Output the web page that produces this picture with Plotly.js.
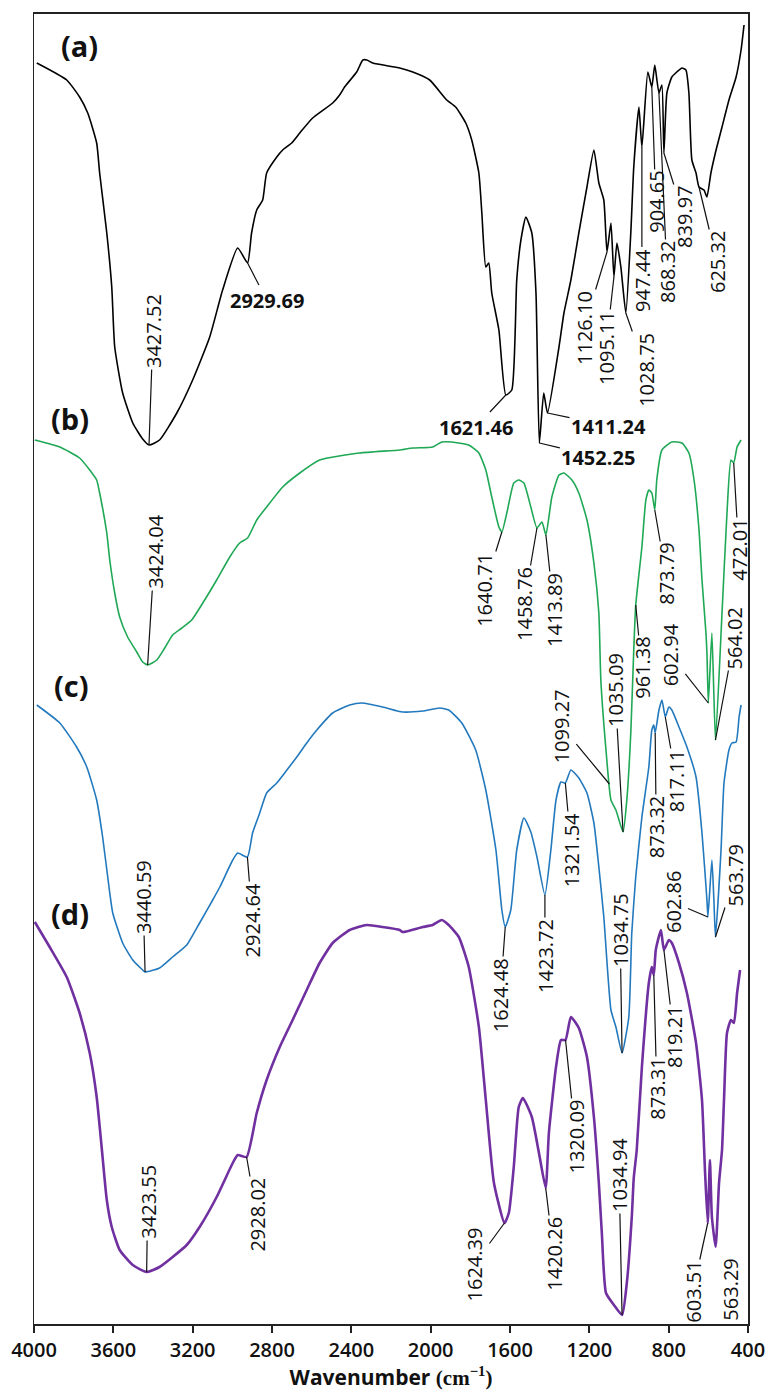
<!DOCTYPE html>
<html>
<head>
<meta charset="utf-8">
<script src="https://cdn.plot.ly/plotly-3.0.1.min.js"></script>
<style>
html,body{margin:0;padding:0;background:#fff;}
#chart{width:769px;height:1395px;}
</style>
</head>
<body>
<div id="chart"></div>
<script>
// ---------- DATA (wavenumber cm-1, offset transmittance a.u.) ----------
const wnA = [3986,3835,3770,3729,3684,3669,3633,3608,3593,3553,3502,3452,3420,3367,3280,3200,3114,3049,2973,2923,2903,2877,2847,2827,2776,2746,2701,2660,2595,2494,2459,2434,2373,2342,2322,2292,2156,2090,2005,1919,1874,1823,1793,1757,1742,1722,1707,1692,1656,1621,1591,1566,1545,1520,1490,1469,1452,1430,1411,1353,1328,1293,1253,1212,1177,1152,1127,1111,1091,1076,1061,1041,1016,991,976,950,935,905,885,870,849,834,824,809,784,759,733,713,698,683,662,647,622,607,587,561,531,496,460,435,420];
const tA  = [1261,1244,1227,1211,1181,1151,1091,1037,977,931,901,885,879,884,911,944,987,1034,1076,1061,1091,1114,1124,1151,1167,1174,1181,1191,1206,1221,1229,1237,1252,1264,1264,1261,1256,1252,1244,1224,1217,1201,1184,1151,1111,1057,1061,1031,994,929,934,1044,1084,1107,1091,1031,881,931,911,977,1011,1044,1091,1137,1174,1141,1124,1072,1101,1047,1081,1057,1011,1091,1157,1217,1177,1252,1237,1259,1231,1239,1171,1231,1247,1252,1256,1254,1231,1164,1151,1137,1134,1127,1151,1174,1197,1224,1247,1274,1299];

const wnB = [3996,3870,3770,3719,3684,3669,3633,3618,3593,3568,3528,3482,3452,3427,3381,3341,3301,3255,3205,3149,3079,3013,2963,2923,2877,2827,2746,2660,2560,2358,2156,2090,1990,1944,1894,1808,1757,1722,1692,1656,1641,1616,1581,1556,1530,1495,1464,1439,1419,1389,1353,1328,1288,1253,1212,1177,1152,1142,1116,1091,1066,1030,1011,991,976,966,935,915,900,885,870,860,834,784,733,698,672,647,632,612,607,600,582,564,531,506,486,472,455,435];
const tB  = [884,877,866,854,844,831,791,764,731,707,687,672,662,659,664,676,689,696,704,721,744,767,781,786,804,817,837,851,864,871,874,876,877,882,882,879,871,854,827,797,792,811,841,844,841,817,796,802,789,827,849,851,844,831,804,761,711,644,574,524,514,492,524,591,674,719,777,824,834,831,814,844,874,882,881,871,844,794,744,691,671,621,691,584,711,811,864,861,877,884];

const wnC = [3986,3870,3785,3734,3684,3654,3618,3603,3553,3502,3452,3440,3367,3301,3230,3165,3099,3063,2998,2973,2924,2898,2862,2827,2776,2725,2675,2625,2574,2494,2408,2347,2242,2141,2040,1954,1909,1843,1773,1722,1671,1641,1624,1596,1566,1530,1495,1464,1424,1394,1368,1343,1321,1293,1253,1212,1177,1152,1127,1091,1066,1035,1001,986,966,935,900,885,875,868,849,834,817,799,784,748,708,662,632,607,602,582,572,564,536,521,496,481,460,445,435];
const tC  = [619,601,577,557,524,487,431,411,381,364,354,352,356,367,379,401,424,437,464,471,467,491,511,531,541,554,567,581,594,611,619,621,617,612,613,616,614,601,574,534,474,414,397,414,474,506,492,467,429,474,524,542,541,554,546,531,501,457,407,314,297,271,307,391,447,507,557,594,599,591,614,624,607,617,614,597,577,547,491,424,407,464,424,387,474,541,574,581,582,607,619];

const wnD = [3996,3921,3835,3770,3719,3684,3659,3633,3608,3568,3502,3432,3367,3301,3230,3165,3079,2998,2973,2928,2877,2827,2761,2696,2625,2560,2494,2408,2322,2242,2156,2141,2040,1990,1944,1909,1858,1808,1757,1722,1681,1628,1606,1581,1556,1535,1490,1454,1420,1404,1368,1343,1320,1293,1253,1212,1177,1152,1137,1116,1076,1035,1011,986,976,961,935,900,885,875,865,839,824,799,784,748,708,662,632,617,603,592,582,563,546,531,521,506,486,471,455,440];
const tD  = [402,377,347,311,271,227,177,124,97,74,59,52,57,67,79,97,127,161,169,167,211,244,277,304,334,361,381,394,399,397,394,392,397,399,404,399,387,357,297,224,141,101,111,157,217,226,207,171,136,191,257,284,284,307,296,267,207,141,91,31,19,9,41,107,146,174,257,341,357,349,374,394,374,384,381,361,331,281,224,154,101,164,107,77,141,174,224,291,304,301,331,354];

// peak labels: text, wavenumber and transmittance at the marked point
const peakText = ['3427.52','2929.69','1621.46','1452.25','1411.24','1126.10','1095.11','1028.75','947.44','904.65','868.32','839.97','625.32',
                  '3424.04','1640.71','1458.76','1413.89','1035.09','1099.27','961.38','873.79','602.94','564.02','472.01',
                  '3440.59','2924.64','1624.48','1423.72','1321.54','1034.75','873.32','817.11','602.86','563.79',
                  '3423.55','2928.02','1624.39','1420.26','1320.09','1034.94','873.31','819.21','603.51','563.29'];
const peakWn = [3420,2923,1621,1452,1411,1111,1076,1016,935,885,849,824,647,
                3427,1641,1464,1419,1030,1099,966,870,600,564,472,
                3440,2924,1624,1424,1321,1035,868,817,602,564,
                3432,2928,1628,1420,1320,1035,875,824,603,563];
const peakT  = [879,1061,929,881,911,1072,1047,1011,1177,1237,1231,1171,1137,
                659,792,796,789,492,540,719,814,621,584,861,
                352,467,397,429,541,271,591,607,407,387,
                52,167,101,136,284,9,349,374,101,77];

const panelText = ['(a)','(b)','(c)','(d)'];
const panelWn = [3770,3820,3810,3820];
const panelT  = [1279,906,639,411];

const xTicks = [4000,3600,3200,2800,2400,2000,1600,1200,800,400];

// ---------- LAYOUT (label offsets in px: ax, ay, vertical?, bold?, arrow?) ----------
const peakOffset = [
 [4,-114,1,0,1],[19,37,0,1,1],[-30,32,0,1,1],[59,14,0,1,1],[61,13,0,1,1],[-23,76,1,0,1],[-8,71,1,0,1],[20,57,1,0,1],[0,133,1,0,1],[4,115,1,0,1],[8,179,1,0,1],[20,64,1,0,1],[18,75,1,0,1],
 [7,-113,1,0,1],[-18,58,1,0,1],[-13,76,1,0,1],[8,75,1,0,1],[-8,-142,1,0,1],[-48,-58,1,0,1],[6,63,1,0,1],[11,64,1,0,1],[-38,-48,1,0,1],[19,-102,1,0,1],[5,87,1,0,1],
 [-2,-75,1,0,1],[5,63,1,0,1],[-5,68,1,0,1],[0,61,1,0,1],[6,67,1,0,1],[-2,-123,1,0,1],[1,94,1,0,1],[11,64,1,0,1],[-35,-15,1,0,1],[20,-62,1,0,1],
 [1,-70,1,0,1],[10,58,1,0,1],[-30,41,1,0,1],[8,66,1,0,1],[10,97,1,0,1],[-3,-140,1,0,1],[3,114,1,0,1],[10,87,1,0,1],[-15,69,1,0,1],[14,43,1,0,0]
];

const colors = ['#000000','#1fa855','#2379bd','#7030a0'];
const widths = [1.6,1.6,1.6,2.6];
const xs = [wnA,wnB,wnC,wnD], ys = [tA,tB,tC,tD];

const traces = xs.map((x,i)=>({
  x:x, y:ys[i], type:'scatter', mode:'lines',
  line:{color:colors[i], width:widths[i], shape:'spline', smoothing:0.5},
  hoverinfo:'skip', showlegend:false
}));

const annotations = [];
peakText.forEach((t,i)=>{
  const o = peakOffset[i];
  annotations.push({
    x:peakWn[i], y:peakT[i], xref:'x', yref:'y', text:t,
    showarrow:true, arrowhead:0, arrowwidth:1.2,
    arrowcolor: o[4] ? '#111' : 'rgba(0,0,0,0)',
    axref:'pixel', ayref:'pixel',
    ax:o[0], ay:o[1], textangle: o[2] ? -90 : 0,
    xanchor:'center', yanchor:'middle',
    font:{family:'Open Sans, sans-serif', size:20, color:'#111', weight: o[3] ? 700 : 400},
    borderpad:1, standoff:0
  });
});
panelText.forEach((t,i)=>{
  annotations.push({
    x:panelWn[i], y:panelT[i], xref:'x', yref:'y', text:t, showarrow:false,
    font:{family:'Open Sans, sans-serif', size:29, color:'#111', weight:700}
  });
});

const layout = {
  width:769, height:1395,
  margin:{l:34, r:21, t:14, b:71, pad:0},
  paper_bgcolor:'#fff', plot_bgcolor:'#fff',
  showlegend:false,
  xaxis:{
    range:[4000,400], tickvals:xTicks, ticktext:xTicks.map(String),
    ticks:'outside', ticklen:7, tickwidth:2, tickcolor:'#222',
    showline:true, linewidth:2, linecolor:'#222', mirror:true,
    showgrid:false, zeroline:false,
    tickfont:{family:'Open Sans, sans-serif', size:20, color:'#111', weight:600},
    title:{text:'Wavenumber <span style="font-family:Liberation Serif, serif">(cm<sup>−1</sup>)</span>',
           font:{family:'Open Sans, sans-serif', size:21, color:'#111', weight:700}, standoff:2},
    automargin:false
  },
  yaxis:{
    range:[0,1310], showticklabels:false, ticks:'',
    showline:true, linewidth:1.5, linecolor:'#222', mirror:true,
    showgrid:false, zeroline:false, automargin:false
  },
  annotations:annotations
};

Plotly.newPlot('chart', traces, layout, {staticPlot:true, displayModeBar:false});
</script>
</body>
</html>
